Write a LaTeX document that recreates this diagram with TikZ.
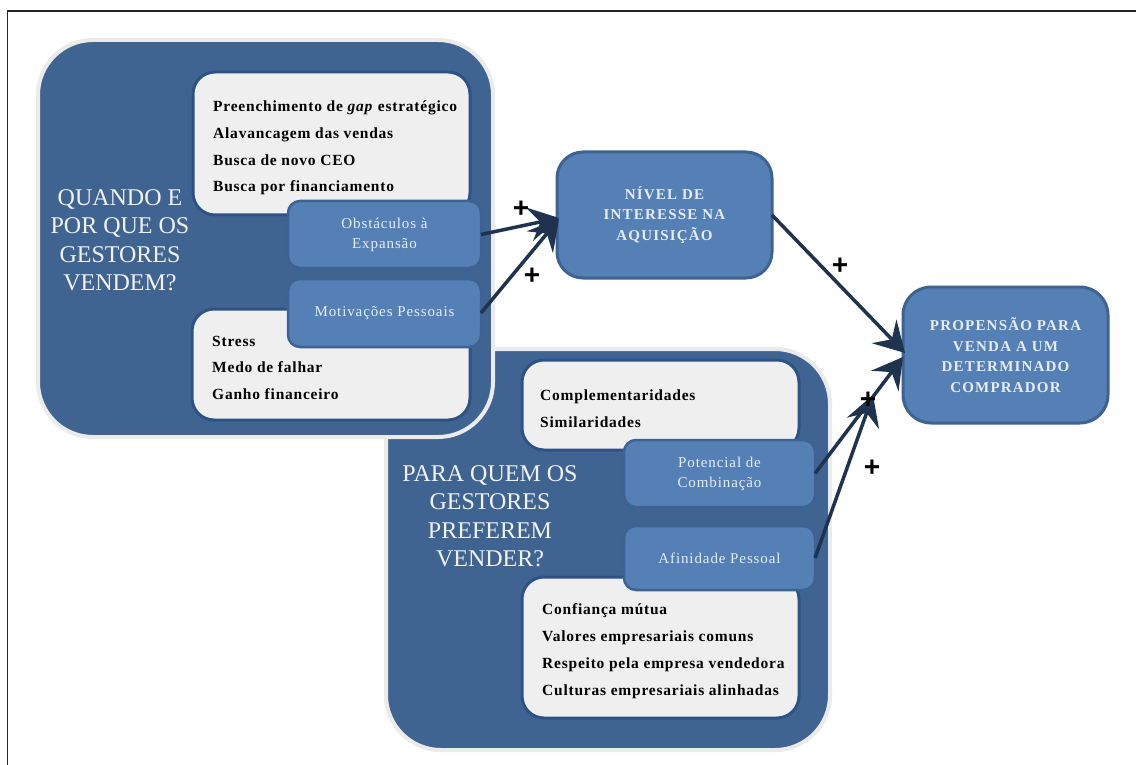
\documentclass[tikz,border=0pt]{standalone}
\usepackage{fontspec}
\setmainfont{Liberation Serif}
\newfontfamily\plusfont{Liberation Sans}
\usetikzlibrary{arrows.meta}
\definecolor{bigfill}{RGB}{64,100,145}
\definecolor{outerg}{RGB}{235,235,235}
\definecolor{lblue}{RGB}{84,128,182}
\definecolor{sbord}{RGB}{62,98,147}
\definecolor{wfill}{RGB}{239,239,239}
\definecolor{wbord}{RGB}{46,82,131}
\definecolor{arrc}{RGB}{31,51,79}
\definecolor{qcol}{RGB}{242,242,242}
\definecolor{btext}{RGB}{232,236,244}
\tikzset{
  bigbox/.style={draw=outerg, line width=4pt, fill=bigfill, rounded corners=55pt, inner sep=0, outer sep=0},
  whitebox/.style={draw=wbord, line width=3pt, fill=wfill, rounded corners=22pt, inner sep=0, outer sep=0},
  smallbox/.style={draw=sbord, line width=2.5pt, fill=lblue, rounded corners=12pt, inner sep=0, outer sep=0,
    text=btext, align=center, font=\fontsize{15}{20}\selectfont\addfontfeature{LetterSpace=6}},
  capbox/.style={draw=sbord, line width=3pt, fill=lblue, rounded corners=26pt, inner sep=0, outer sep=0,
    text=btext, align=center, font=\fontsize{15}{20.5}\selectfont\bfseries\addfontfeature{LetterSpace=8}},
  qtext/.style={align=center, inner sep=0, text=qcol, font=\fontsize{24}{28.5}\selectfont},
  itemtxt/.style={anchor=base west, inner sep=0, font=\fontsize{15.5}{18}\selectfont\bfseries\addfontfeature{LetterSpace=5}},
  plus/.style={inner sep=0, font=\plusfont\bfseries\fontsize{28}{28}\selectfont},
  arr/.style={draw=arrc, line width=3.5pt, -{Stealth[length=30pt,width=34pt,inset=11pt]}}
}
\begin{document}
\begin{tikzpicture}[x=1pt,y=-1pt]
\useasboundingbox (0,0) rectangle (1136,765);
\fill[white] (0,0) rectangle (1136,765);
\draw[line width=1.5pt, black!85] (1136,11) -- (7.5,11) -- (7.5,765);

% big boxes
\node[bigbox, minimum width=444pt, minimum height=401pt] (big2) at (608,549.5) {};
\node[bigbox, minimum width=455pt, minimum height=397pt] (big1) at (265.5,238.5) {};
\node[qtext] (q1) at (120,240) {QUANDO E\\POR QUE OS\\GESTORES\\VENDEM?};
\node[qtext] (q2) at (490,516) {PARA QUEM OS\\GESTORES\\PREFEREM\\VENDER?};

% white boxes
\node[whitebox, minimum width=277pt, minimum height=143pt] (w1) at (331.5,143.5) {};
\node[whitebox, minimum width=278pt, minimum height=111pt] (w2) at (331,364.5) {};
\node[whitebox, minimum width=277pt, minimum height=90pt] (w3) at (660.5,405) {};
\node[whitebox, minimum width=277pt, minimum height=141pt] (w4) at (660.5,647.5) {};

% list texts
\node[itemtxt] (t11) at (213,112) {Preenchimento de \textit{gap} estratégico};
\node[itemtxt] (t12) at (213,139) {Alavancagem das vendas};
\node[itemtxt] (t13) at (213,166) {Busca de novo CEO};
\node[itemtxt] (t14) at (213,192) {Busca por financiamento};
\node[itemtxt] (t21) at (212,346) {Stress};
\node[itemtxt] (t22) at (212,372) {Medo de falhar};
\node[itemtxt] (t23) at (212,399) {Ganho financeiro};
\node[itemtxt] (t31) at (540,400) {Complementaridades};
\node[itemtxt] (t32) at (540,427) {Similaridades};
\node[itemtxt] (t41) at (542,614) {Confiança mútua};
\node[itemtxt] (t42) at (542,641) {Valores empresariais comuns};
\node[itemtxt] (t43) at (542,668) {Respeito pela empresa vendedora};
\node[itemtxt] (t44) at (542,695) {Culturas empresariais alinhadas};

% small blue boxes
\node[smallbox, minimum width=193pt, minimum height=67pt] (obst) at (384.5,234.5) {Obstáculos à\\Expansão};
\node[smallbox, minimum width=193pt, minimum height=68pt] (motiv) at (384.5,313) {Motivações Pessoais};
\node[smallbox, minimum width=191pt, minimum height=67pt] (pot) at (719.5,473.5) {Potencial de\\Combinação};
\node[smallbox, minimum width=191pt, minimum height=64pt] (afin) at (719.5,558) {Afinidade Pessoal};

% right boxes
\node[capbox, minimum width=215pt, minimum height=126pt] (nivel) at (664.5,215) {NÍVEL DE\\INTERESSE NA\\AQUISIÇÃO};
\node[capbox, minimum width=205pt, minimum height=136pt, rounded corners=28pt] (prop) at (1005.5,355) {PROPENSÃO PARA\\VENDA A UM\\DETERMINADO\\COMPRADOR};

% arrows
\coordinate (afend) at (873,395);
\draw[arr] (obst.east) -- ([xshift=2pt,yshift=-3pt]nivel.west);
\draw[arr] (motiv.east) -- ([xshift=2pt,yshift=-4pt]nivel.west);
\draw[arr] (nivel.east) -- ([xshift=2pt,yshift=2pt]prop.west);
\draw[arr] (pot.east) -- ([yshift=-2pt]prop.west);
\draw[arr] (afin.east) -- (afend);

% plus signs
\node[plus] (p1) at (521,209) {+};
\node[plus] (p2) at (532,276) {+};
\node[plus] (p3) at (840,266) {+};
\node[plus] (p4) at (868,400) {+};
\node[plus] (p5) at (872,468) {+};
\end{tikzpicture}
\end{document}
